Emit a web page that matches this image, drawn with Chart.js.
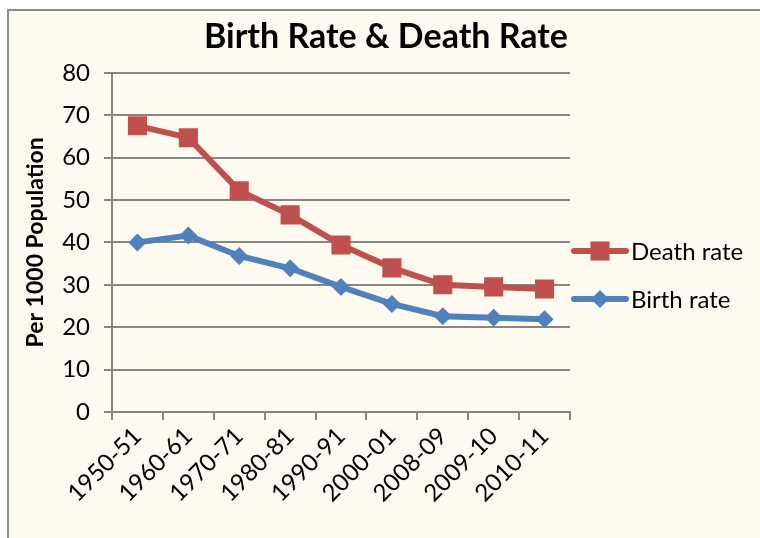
<!DOCTYPE html>
<html>
<head>
<meta charset="utf-8">
<script src="https://cdn.jsdelivr.net/npm/chart.js@4"></script>
<style>
  html, body { margin: 0; padding: 0; background: #fff; overflow: hidden; }
  #frame {
    position: absolute; left: 7px; top: 9px;
    width: 754px; height: 540px;
    border: 2px solid #8c8c8c;
    background: #fffaf0;
  }
  #frame canvas { display: block; }
</style>
</head>
<body>
<div id="frame"><canvas id="rateChart" width="754" height="540"></canvas></div>
<script>
// data
const years = ["1950-51", "1960-61", "1970-71", "1980-81", "1990-91", "2000-01", "2008-09", "2009-10", "2010-11"];
const deathRate = [67.5, 64.7, 52.2, 46.5, 39.4, 34.0, 30.0, 29.5, 29.0];
const birthRate = [40.0, 41.6, 36.8, 33.9, 29.5, 25.5, 22.6, 22.2, 21.9];
const yTicks = [0, 10, 20, 30, 40, 50, 60, 70, 80];

const FONT = "Lato, 'Open Sans', sans-serif";
const RED = "#c0504d";
const BLUE = "#4f81bd";
const GRID = "#868686";

// legend drawn to the right of the plot, line + marker like the office one
const sideLegend = {
  id: "sideLegend",
  afterDraw(chart) {
    const ctx = chart.ctx;
    const x0 = chart.chartArea.right + 1;
    const rows = [240, 288];
    chart.data.datasets.forEach((ds, i) => {
      const y = rows[i];
      ctx.save();
      ctx.strokeStyle = ds.borderColor;
      ctx.lineWidth = ds.borderWidth;
      ctx.lineCap = "round";
      ctx.beginPath();
      ctx.moveTo(x0 + 3, y);
      ctx.lineTo(x0 + 55, y);
      ctx.stroke();
      ctx.fillStyle = ds.pointBackgroundColor;
      Chart.helpers.drawPoint(ctx, {pointStyle: ds.pointStyle, radius: ds.pointRadius, borderWidth: 0}, x0 + 29, y);
      ctx.fillStyle = "#000";
      ctx.font = "24px " + FONT;
      ctx.textBaseline = "middle";
      ctx.textAlign = "left";
      ctx.fillText(ds.label, x0 + 60, y + 1);
      ctx.restore();
    });
  }
};

new Chart(document.getElementById("rateChart"), {
  type: "line",
  data: {
    labels: years,
    datasets: [
      {
        label: "Death rate",
        data: deathRate,
        borderColor: RED,
        backgroundColor: RED,
        pointBackgroundColor: RED,
        pointBorderColor: RED,
        borderWidth: 6,
        pointStyle: "rect",
        pointRadius: 13.5,
        pointBorderWidth: 0,
        tension: 0
      },
      {
        label: "Birth rate",
        data: birthRate,
        borderColor: BLUE,
        backgroundColor: BLUE,
        pointBackgroundColor: BLUE,
        pointBorderColor: BLUE,
        borderWidth: 6,
        pointStyle: "rectRot",
        pointRadius: 9,
        pointBorderWidth: 0,
        tension: 0
      }
    ]
  },
  options: {
    responsive: false,
    animation: false,
    layout: { padding: 0 },
    plugins: {
      legend: { display: false },
      tooltip: { enabled: false },
      title: {
        display: true,
        text: "Birth Rate & Death Rate",
        color: "#000",
        font: { family: FONT, size: 34, weight: "bold" },
        padding: { top: 6, bottom: 15 }
      }
    },
    scales: {
      x: {
        offset: true,
        grid: { offset: true, drawOnChartArea: false, drawTicks: true, tickLength: 8, color: GRID, lineWidth: 2 },
        border: { color: GRID, width: 2 },
        ticks: { color: "#000", font: { family: FONT, size: 24 }, maxRotation: 45, minRotation: 45, padding: 2 },
        afterFit(s) { s.height = 139; }
      },
      y: {
        min: 0,
        max: 80,
        afterBuildTicks(s) { s.ticks = yTicks.map(v => ({ value: v })); },
        grid: { color: GRID, lineWidth: 2, tickLength: 8 },
        border: { color: GRID, width: 2 },
        ticks: { color: "#000", font: { family: FONT, size: 24 }, padding: 14 },
        title: {
          display: true,
          text: "Per 1000 Population",
          color: "#000",
          font: { family: FONT, size: 23, weight: "bold" },
          padding: { top: 13, bottom: 0 }
        },
        afterFit(s) { s.width = 103; }
      },
      pad: {
        position: "right",
        display: true,
        grid: { display: false },
        border: { display: false },
        ticks: { display: false },
        afterFit(s) { s.width = 193; }
      }
    }
  },
  plugins: [sideLegend]
});
</script>
</body>
</html>
